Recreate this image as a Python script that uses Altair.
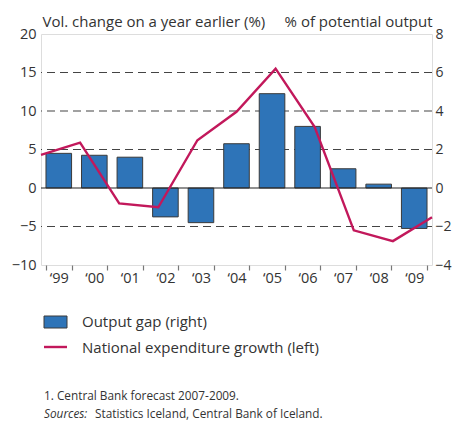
import altair as alt
import pandas as pd

years = ["\u201899", "\u201800", "\u201801", "\u201802", "\u201803", "\u201804",
         "\u201805", "\u201806", "\u201807", "\u201808", "\u201809"]
output_gap = [1.8, 1.7, 1.6, -1.5, -1.8, 2.3, 4.9, 3.2, 1.0, 0.2, -2.1]
expenditure_growth = [4.3, 5.9, -2.0, -2.5, 6.2, 9.9, 15.5, 7.9, -5.5, -6.9, -3.8]

FONT = "Open Sans"
TXT = "#333333"
W, H = 391, 231

df = pd.DataFrame({"year": years, "gap": output_gap, "growth": expenditure_growth})

xband = alt.X("year:N", sort=years, title=None,
              scale=alt.Scale(paddingInner=0.28, paddingOuter=0.14),
              axis=alt.Axis(tickBand="extent", tickSize=5, tickColor="#777777",
                            tickWidth=1.2, labelAngle=0, labelFontSize=14.5,
                            labelColor=TXT, labelFont=FONT, labelPadding=1,
                            domain=False, grid=False))

bars = alt.Chart(df).mark_bar(color="#2e74b8", stroke="#3a3a3a", strokeWidth=1).encode(
    x=xband,
    y=alt.Y("gap:Q", scale=alt.Scale(domain=[-4, 8], nice=False),
            axis=alt.Axis(orient="right", values=[-4, -2, 0, 2, 4, 6, 8], tickSize=0,
                          labelPadding=3, labelFontSize=14, labelColor=TXT, labelFont=FONT,
                          domain=False, grid=False,
                          title="% of potential output", titleAngle=0,
                          titleAlign="right", titleBaseline="alphabetic",
                          titleX=0, titleY=-8, titleFontSize=15,
                          titleFontWeight="normal", titleColor=TXT, titleFont=FONT)),
)

grid = alt.Chart(pd.DataFrame({"v": [-10, -5, 0, 5, 10, 15, 20]})).mark_rule(
    opacity=0).encode(
    y=alt.Y("v:Q", scale=alt.Scale(domain=[-10, 20], nice=False),
            axis=alt.Axis(orient="left", values=[-10, -5, 0, 5, 10, 15, 20], tickSize=0,
                          labelPadding=5, labelFontSize=14.5, labelColor=TXT, labelFont=FONT,
                          domain=False, grid=False,
                          title="Vol. change on a year earlier (%)", titleAngle=0,
                          titleAlign="left", titleBaseline="alphabetic",
                          titleX=1, titleY=-8, titleFontSize=15,
                          titleFontWeight="normal", titleColor=TXT, titleFont=FONT)),
)

dashes = alt.Chart(pd.DataFrame({"v": [-5, 5, 10, 15]})).mark_rule(
    color="#444444", strokeDash=[8, 5], strokeWidth=1.1).encode(
    y=alt.Y("v:Q", scale=alt.Scale(domain=[-10, 20], nice=False), axis=None),
)

zero = alt.Chart(pd.DataFrame({"v": [0]})).mark_rule(color="#222222", strokeWidth=1.2).encode(
    y=alt.Y("v:Q", scale=alt.Scale(domain=[-10, 20], nice=False), axis=None),
)

line = alt.Chart(df).mark_line(color="#c2185b", strokeWidth=2.4).encode(
    x=alt.X("year:N", sort=years, scale=alt.Scale(type="point", padding=0), axis=None),
    y=alt.Y("growth:Q", scale=alt.Scale(domain=[-10, 20], nice=False), axis=None),
)

one = alt.Data(values=[{}])

leg_rect = alt.Chart(one).mark_rect(color="#2e74b8", stroke="#3a3a3a", strokeWidth=1).encode(
    x=alt.value(3), x2=alt.value(26), y=alt.value(282), y2=alt.value(294))
leg_line = alt.Chart(one).mark_rule(color="#c2185b", strokeWidth=2.4).encode(
    x=alt.value(3), x2=alt.value(26), y=alt.value(313))

def txt(s, x, y, size, style="normal"):
    return alt.Chart(one).mark_text(align="left", baseline="middle", font=FONT,
                                    fontSize=size, color=TXT, fontStyle=style).encode(
        x=alt.value(x), y=alt.value(y), text=alt.value(s))

texts = [
    txt("Output gap (right)", 41, 288, 15),
    txt("National expenditure growth (left)", 41, 314, 15),
    txt("1. Central Bank forecast 2007-2009.", 3, 362, 11.8),
    txt("Sources:", 3, 380, 11.8, "italic"),
    txt("Statistics Iceland, Central Bank of Iceland.", 54, 380, 11.8),
]

chart = alt.layer(grid, dashes, bars, zero, line, leg_rect, leg_line, *texts).resolve_scale(
    y="independent", x="independent"
).properties(
    width=W, height=H,
    autosize=alt.AutoSizeParams(type="none"),
    padding={"left": 33, "top": 26, "right": 20, "bottom": 156},
).configure_view(stroke="#777777", strokeWidth=1.5).configure(background="white")

chart.save("out.html", embed_options={"renderer": "svg", "actions": False})
